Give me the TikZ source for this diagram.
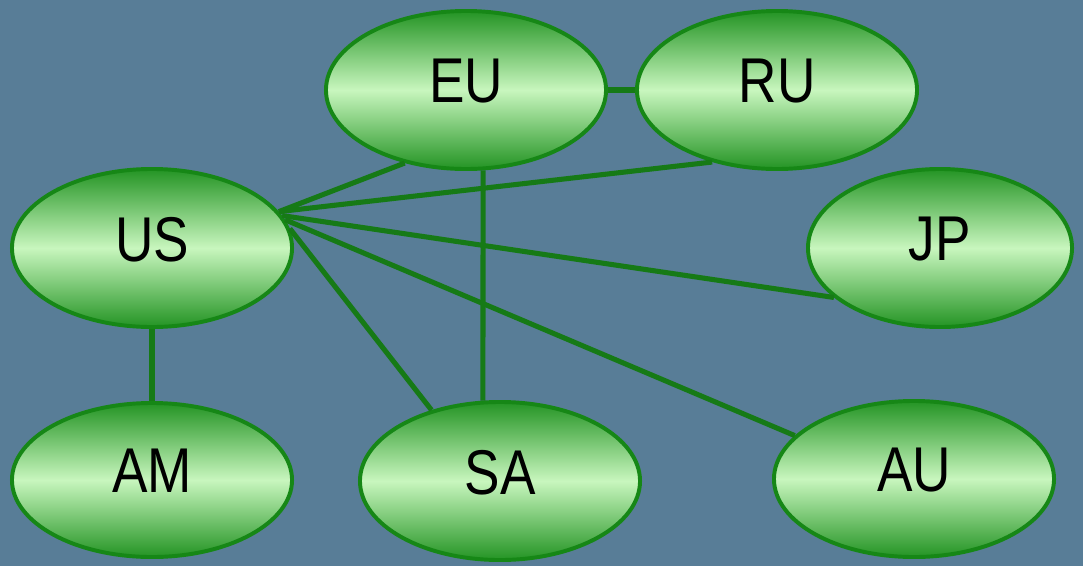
\documentclass[tikz,border=0pt]{standalone}
\usepackage{fontspec}
\setmainfont{Liberation Sans}
\usetikzlibrary{shapes.geometric}
\usetikzlibrary{positioning}
\definecolor{bgblue}{RGB}{88,125,151}
\definecolor{rimgreen}{RGB}{22,135,22}
\definecolor{darkgreen}{RGB}{36,148,36}
\definecolor{palegreen}{RGB}{200,246,190}
\definecolor{linkgreen}{RGB}{22,122,22}
\newcommand{\narrow}[1]{\scalebox{0.84}[1]{#1}}

\begin{document}
\begin{tikzpicture}[x=0.025cm,y=-0.025cm,
  region/.style={ellipse,draw=rimgreen,line width=2.8pt,top color=darkgreen,bottom color=darkgreen,middle color=palegreen,inner sep=0pt,text depth=0.45cm,minimum width=7cm,minimum height=3.95cm,font=\fontsize{45}{47}\selectfont,text=black},
  link/.style={draw=linkgreen,line width=3.6pt}]
\fill[bgblue] (0,0) rectangle (1083,566);
\useasboundingbox (0,0) rectangle (1083,566);

\node[region] (EU) at (466,90) {\narrow{EU}};
\node[region] (RU) at (777,90) {\narrow{RU}};
\node[region] (US) at (152,248) {\narrow{US}};
\node[region,minimum width=6.6cm] (JP) at (940,248) {\narrow{JP}};
\node[region,minimum height=3.85cm] (AM) at (152,480) {\narrow{AM}};
\node[region] (SA) at (500,481) {\narrow{SA}};
\node[region,minimum height=3.9cm] (AU) at (914,479) {\narrow{AU}};

\draw[link] (EU.east) -- (RU.west);
\draw[link] (US.16) -- (EU.230);
\draw[link] (US.16) -- (RU.228);
\draw[link] (US.14) -- (JP.205);
\draw[link] (US.12) -- (AU.160);
\draw[link] (US.8) -- (SA.134);
\draw[link] (US.south) -- (AM.north);
\draw[link] (EU.282) -- (SA.102);

\end{tikzpicture}
\end{document}
